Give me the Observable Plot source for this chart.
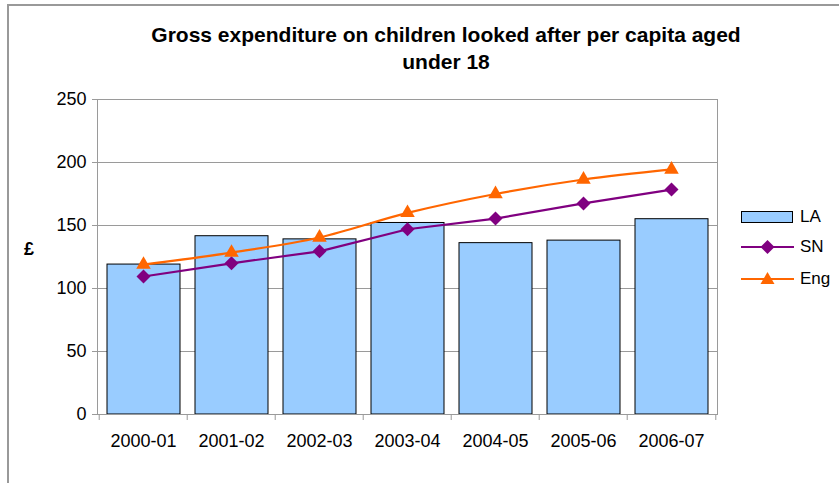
<!DOCTYPE html>
<html>
<head>
<meta charset="utf-8">
<script src="https://cdn.jsdelivr.net/npm/d3@7"></script>
<script src="https://cdn.jsdelivr.net/npm/@observablehq/plot@0.6"></script>
<style>
  html, body { margin: 0; padding: 0; background: #fff; }
  #wrap { position: relative; width: 839px; height: 483px; overflow: hidden; font-family: "Liberation Sans", Arial, sans-serif; }
  #border { position: absolute; left: 7px; top: 4px; width: 900px; height: 600px; border-left: 2px solid #999; border-top: 2px solid #999; box-sizing: border-box; }
  #title { position: absolute; left: 46px; width: 800px; top: 21px; text-align: center; font-weight: bold; font-size: 21px; line-height: 27px; color: #000; }
  #chart { position: absolute; left: 0; top: 0; }
  #ylab { position: absolute; left: 24px; top: 239px; font-weight: bold; font-size: 18px; }
  .leg { position: absolute; left: 741px; display: flex; align-items: center; font-size: 17px; }
  .leg svg { margin-right: 6px; }
</style>
</head>
<body>
<div id="wrap">
  <div id="border"></div>
  <div id="chart"></div>
  <div id="title">Gross expenditure on children looked after per capita aged<br>under 18</div>
  <div id="ylab">£</div>
  <div id="legend"></div>
</div>
<script>
const categories = ["2000-01", "2001-02", "2002-03", "2003-04", "2004-05", "2005-06", "2006-07"];
const laValues  = [119, 141.5, 139, 152, 136, 138, 155];
const snValues  = [109.5, 120, 129.5, 147, 155.5, 167.5, 178.5];
const engValues = [119, 128.5, 140.5, 160, 175, 186.5, 194.5];
const yTicks = [0, 50, 100, 150, 200, 250];
const seriesNames = ["LA", "SN", "Eng"];

const colors = { LA: "#99CCFF", SN: "#800080", Eng: "#FF6600" };

const rows = categories.map((c, i) => ({ cat: c, LA: laValues[i], SN: snValues[i], Eng: engValues[i] }));

const W = 839, H = 483, ml = 97, mr = 122, mt = 99, mb = 69;
const step = (W - ml - mr) / categories.length;

const chart = Plot.plot({
  width: W,
  height: H,
  marginLeft: ml,
  marginRight: mr,
  marginTop: mt,
  marginBottom: mb,
  style: { fontFamily: "Liberation Sans, Arial, sans-serif", background: "transparent", overflow: "visible" },
  x: { domain: categories, padding: 0, label: null },
  y: { domain: [0, 250], label: null },
  marks: [
    Plot.ruleY(yTicks, { stroke: "#9a9a9a", strokeWidth: 1 }),
    Plot.barY(rows, { x: "cat", y: "LA", fill: colors.LA, stroke: "#000", strokeWidth: 1, insetLeft: 8, insetRight: 7 }),
    Plot.frame({ stroke: "#9a9a9a", strokeWidth: 1 }),
    Plot.axisY({ ticks: yTicks, tickSize: 5, stroke: "#9a9a9a", tickPadding: 6, fontSize: 18, fill: "#000", label: null }),
    Plot.axisX({ tickSize: 0, tickPadding: 20, fontSize: 18, fill: "#000", label: null }),
    Plot.axisX({ tickSize: 6, text: null, stroke: "#9a9a9a", dx: -step / 2, label: null }),
    Plot.axisX({ ticks: [categories[categories.length - 1]], tickSize: 6, text: null, stroke: "#9a9a9a", dx: step / 2, label: null }),
    Plot.line(rows, { x: "cat", y: "SN", stroke: colors.SN, strokeWidth: 2.2 }),
    Plot.dot(rows, { x: "cat", y: "SN", symbol: "diamond2", r: 6.3, fill: colors.SN, stroke: "none" }),
    Plot.line(rows, { x: "cat", y: "Eng", stroke: colors.Eng, strokeWidth: 2.2, curve: "catmull-rom" }),
    Plot.dot(rows, { x: "cat", y: "Eng", symbol: "triangle", r: 5.4, fill: colors.Eng, stroke: "none" })
  ]
});
document.getElementById("chart").appendChild(chart);

// Legend
const legend = document.getElementById("legend");
const legTops = { LA: 207, SN: 237, Eng: 269 };
seriesNames.forEach(name => {
  const item = document.createElement("div");
  item.className = "leg";
  item.style.top = legTops[name] + "px";
  let sym;
  if (name === "LA") {
    sym = `<svg width="53" height="20"><rect x="0.5" y="4.5" width="51" height="11" fill="${colors.LA}" stroke="#000"/></svg>`;
  } else if (name === "SN") {
    sym = `<svg width="53" height="20"><line x1="0" x2="53" y1="10" y2="10" stroke="${colors.SN}" stroke-width="2.2"/><path d="M26.5,3 L33.5,10 L26.5,17 L19.5,10 Z" fill="${colors.SN}"/></svg>`;
  } else {
    sym = `<svg width="53" height="20"><line x1="0" x2="53" y1="10" y2="10" stroke="${colors.Eng}" stroke-width="2.2"/><path d="M26.5,3 L33.5,15 L19.5,15 Z" fill="${colors.Eng}"/></svg>`;
  }
  item.innerHTML = sym + `<span>${name}</span>`;
  legend.appendChild(item);
});
</script>
</body>
</html>
